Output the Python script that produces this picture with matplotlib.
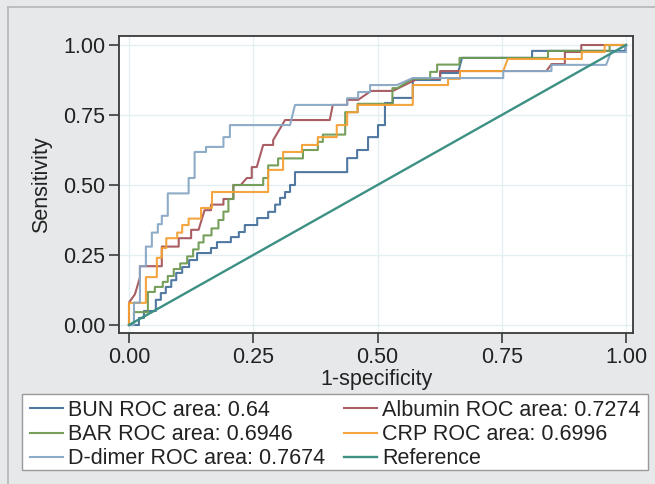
import numpy as np
import matplotlib
matplotlib.use("Agg")
import matplotlib.pyplot as plt
from matplotlib.lines import Line2D
from matplotlib.patches import Rectangle

plt.rcParams['font.family'] = ['Liberation Sans', 'DejaVu Sans']

# ROC points (1-specificity, sensitivity)
bun_roc = [(0, 0), (0.02, 0), (0.02, 0.025), (0.03, 0.025), (0.03, 0.05), (0.054, 0.05),
           (0.054, 0.09), (0.064, 0.09), (0.064, 0.114), (0.074, 0.114), (0.074, 0.136),
           (0.085, 0.136), (0.085, 0.16), (0.095, 0.16), (0.095, 0.186), (0.107, 0.186),
           (0.107, 0.207), (0.121, 0.207), (0.121, 0.232), (0.137, 0.232), (0.137, 0.257),
           (0.165, 0.257), (0.165, 0.275), (0.177, 0.275), (0.177, 0.296), (0.205, 0.296),
           (0.205, 0.314), (0.221, 0.314), (0.221, 0.332), (0.233, 0.332), (0.233, 0.357),
           (0.258, 0.357), (0.258, 0.382), (0.28, 0.382), (0.28, 0.404), (0.294, 0.404),
           (0.294, 0.43), (0.304, 0.43), (0.304, 0.454), (0.314, 0.454), (0.314, 0.475),
           (0.324, 0.475), (0.324, 0.5), (0.334, 0.5), (0.334, 0.546), (0.439, 0.546),
           (0.439, 0.596), (0.459, 0.596), (0.459, 0.625), (0.481, 0.625), (0.481, 0.671),
           (0.501, 0.671), (0.501, 0.714), (0.515, 0.714), (0.515, 0.793), (0.531, 0.793),
           (0.531, 0.811), (0.571, 0.811), (0.571, 0.875), (0.626, 0.875), (0.626, 0.9),
           (0.662, 0.9), (0.67, 0.954), (0.811, 0.954), (0.811, 0.979), (0.998, 0.979),
           (1.0, 1.0)]

albumin_roc = [(0, 0), (0, 0.08), (0.012, 0.11), (0.022, 0.17), (0.022, 0.21), (0.066, 0.21),
               (0.066, 0.28), (0.1, 0.28), (0.1, 0.31), (0.125, 0.31), (0.125, 0.34),
               (0.14, 0.34), (0.152, 0.41), (0.165, 0.41), (0.165, 0.43), (0.19, 0.43),
               (0.19, 0.45), (0.21, 0.45), (0.21, 0.5), (0.225, 0.5), (0.237, 0.525),
               (0.247, 0.525), (0.247, 0.564), (0.257, 0.564), (0.27, 0.643), (0.29, 0.643),
               (0.29, 0.66), (0.314, 0.732), (0.404, 0.732), (0.41, 0.786), (0.439, 0.786),
               (0.439, 0.804), (0.461, 0.804), (0.487, 0.836), (0.531, 0.836), (0.58, 0.879),
               (0.626, 0.879), (0.626, 0.907), (0.84, 0.907), (0.85, 0.932), (0.877, 0.932),
               (0.877, 0.975), (0.91, 0.975), (0.91, 1.0), (1.0, 1.0)]

bar_roc = [(0, 0), (0.01, 0), (0.01, 0.046), (0.038, 0.046), (0.038, 0.118), (0.052, 0.118),
           (0.052, 0.136), (0.068, 0.136), (0.068, 0.154), (0.078, 0.154), (0.078, 0.175),
           (0.09, 0.175), (0.09, 0.2), (0.103, 0.2), (0.103, 0.22), (0.117, 0.22),
           (0.117, 0.245), (0.129, 0.245), (0.129, 0.27), (0.14, 0.27), (0.14, 0.295),
           (0.15, 0.295), (0.15, 0.32), (0.166, 0.32), (0.166, 0.345), (0.18, 0.345),
           (0.18, 0.375), (0.19, 0.375), (0.19, 0.405), (0.2, 0.405), (0.2, 0.45),
           (0.21, 0.45), (0.21, 0.5), (0.27, 0.5), (0.27, 0.525), (0.28, 0.525),
           (0.28, 0.57), (0.3, 0.57), (0.3, 0.595), (0.35, 0.595), (0.35, 0.625),
           (0.38, 0.625), (0.38, 0.654), (0.39, 0.654), (0.39, 0.68), (0.435, 0.68),
           (0.435, 0.76), (0.46, 0.76), (0.46, 0.79), (0.53, 0.79), (0.53, 0.846),
           (0.54, 0.846), (0.57, 0.879), (0.606, 0.879), (0.606, 0.904), (0.62, 0.904),
           (0.62, 0.93), (0.665, 0.93), (0.665, 0.954), (0.843, 0.954), (0.843, 0.979),
           (0.967, 0.979), (0.967, 1.0), (1.0, 1.0)]

crp_roc = [(0, 0), (0, 0.079), (0.034, 0.079), (0.034, 0.171), (0.056, 0.171), (0.056, 0.24),
           (0.066, 0.24), (0.066, 0.275), (0.075, 0.275), (0.075, 0.31), (0.097, 0.31),
           (0.097, 0.33), (0.107, 0.33), (0.107, 0.357), (0.12, 0.357), (0.12, 0.38),
           (0.145, 0.38), (0.145, 0.418), (0.167, 0.418), (0.167, 0.475), (0.28, 0.475),
           (0.28, 0.554), (0.31, 0.554), (0.31, 0.618), (0.348, 0.618), (0.348, 0.643),
           (0.38, 0.643), (0.38, 0.671), (0.418, 0.671), (0.418, 0.714), (0.439, 0.714),
           (0.439, 0.76), (0.46, 0.76), (0.46, 0.786), (0.571, 0.786), (0.571, 0.857),
           (0.642, 0.857), (0.642, 0.879), (0.666, 0.879), (0.666, 0.907), (0.753, 0.907),
           (0.762, 0.95), (0.911, 0.95), (0.911, 0.975), (0.957, 0.975), (0.957, 1.0),
           (1.0, 1.0)]

ddimer_roc = [(0, 0), (0.01, 0), (0.01, 0.08), (0.022, 0.08), (0.022, 0.21), (0.034, 0.21),
              (0.034, 0.28), (0.046, 0.28), (0.046, 0.33), (0.058, 0.33), (0.058, 0.36),
              (0.066, 0.36), (0.066, 0.39), (0.078, 0.39), (0.078, 0.47), (0.12, 0.47),
              (0.12, 0.525), (0.132, 0.525), (0.132, 0.618), (0.155, 0.618), (0.155, 0.636),
              (0.19, 0.636), (0.19, 0.671), (0.203, 0.671), (0.203, 0.714), (0.324, 0.714),
              (0.334, 0.786), (0.439, 0.786), (0.439, 0.81), (0.461, 0.81), (0.461, 0.832),
              (0.485, 0.832), (0.485, 0.857), (0.539, 0.857), (0.571, 0.882), (0.753, 0.882),
              (0.753, 0.907), (0.85, 0.907), (0.85, 0.929), (0.96, 0.929), (0.97, 0.975),
              (1.0, 0.975), (1.0, 1.0)]

ref_x = [0, 1]
ref_y = [0, 1]

labels = ["BUN ROC area: 0.64", "Albumin ROC area: 0.7274", "BAR ROC area: 0.6946",
          "CRP ROC area: 0.6996", "D-dimer ROC area: 0.7674", "Reference"]
colors = ["#46719c", "#a4555b", "#6f9a53", "#f4a034", "#88a7c4", "#3c9084"]
ticks = [0, 0.25, 0.5, 0.75, 1.0]
tick_labels = ["0.00", "0.25", "0.50", "0.75", "1.00"]

W, H = 655, 484
fig = plt.figure(figsize=(6.55, 4.84), dpi=100)
fig.patch.set_facecolor("#e6e8e9")
# thin outer frame (left and top edges visible)
fig.add_artist(Line2D([8 / W, 8 / W], [0, 1 - 7 / H], transform=fig.transFigure,
                      color="#b4b6b7", lw=1.2))
fig.add_artist(Line2D([8 / W, 1], [1 - 7 / H, 1 - 7 / H], transform=fig.transFigure,
                      color="#b4b6b7", lw=1.2))

ax = fig.add_axes([119 / W, 1 - 333 / H, 514 / W, 297 / H])
ax.set_facecolor("white")

handles = []
for roc, c, lab in zip([bun_roc, albumin_roc, bar_roc, crp_roc, ddimer_roc], colors[:5], labels[:5]):
    pts = np.array(roc)
    h, = ax.plot(pts[:, 0], pts[:, 1], color=c, lw=1.5, label=lab, alpha=0.95)
    handles.append(h)
h, = ax.plot(ref_x, ref_y, color=colors[5], lw=1.7, label=labels[5])
handles.append(h)

ax.set_xlim(-10 / 497, 1 + 7 / 497)
ax.set_ylim(-8 / 280, 1 + 9 / 280)
ax.set_xticks(ticks)
ax.set_xticklabels(tick_labels)
ax.set_yticks(ticks)
ax.set_yticklabels(tick_labels)
ax.grid(True, color="#e3eff1", lw=1.0)
ax.set_axisbelow(True)
for s in ax.spines.values():
    s.set_color("#3a3a3a")
    s.set_linewidth(1.3)
ax.tick_params(axis="both", direction="out", length=7, width=1.2, color="#3a3a3a",
               labelsize=15.5, labelcolor="#222222", pad=3)
ax.set_xlabel("1-specificity", fontsize=15.5, color="#222222", labelpad=1)
ax.set_ylabel("Sensitivity", fontsize=15.5, color="#222222", labelpad=8)

# legend box drawn separately so the inner padding can differ per side
fig.add_artist(Rectangle((22 / W, 1 - 470 / H), 626 / W, 76 / H, transform=fig.transFigure,
                         facecolor="white", edgecolor="#9a9a9a", lw=1.0, zorder=3))

# legend order row-wise as in the picture (matplotlib fills columns first)
order = [0, 2, 4, 1, 3, 5]
leg = fig.legend([handles[i] for i in order], [labels[i] for i in order], ncol=2,
                 loc="upper left", bbox_to_anchor=(30 / W, 1 - 400 / H),
                 fontsize=15.5, frameon=False, borderaxespad=0, borderpad=0,
                 handlelength=1.53, handletextpad=0.23, labelspacing=0.15,
                 columnspacing=0.88)
leg.set_zorder(4)
for t in leg.get_texts():
    t.set_color("#222222")

fig.savefig("out.png", dpi=100, facecolor=fig.get_facecolor())
